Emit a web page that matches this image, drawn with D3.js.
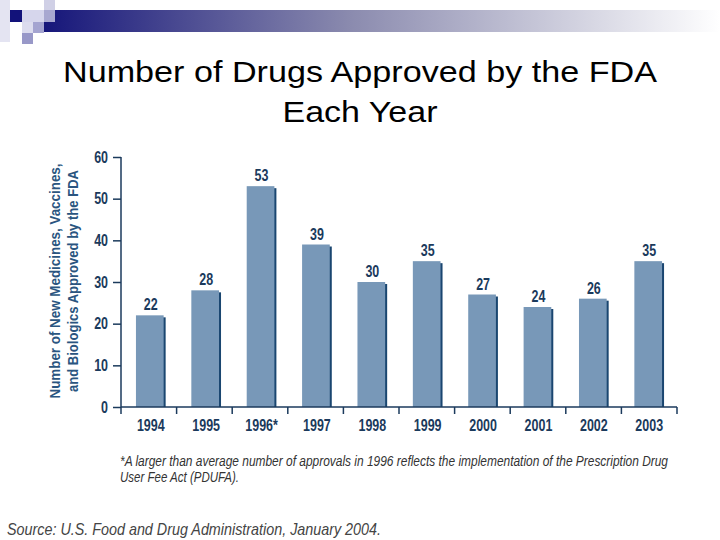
<!DOCTYPE html>
<html>
<head>
<meta charset="utf-8">
<script src="https://cdn.jsdelivr.net/npm/d3@7"></script>
<style>
  body { margin: 0; background: #fff; }
  svg { display: block; }
</style>
</head>
<body>
<div id="main"></div>
<script>
const ctx = {
    w: 720,
    h: 540,
};

// data
const years = ["1994", "1995", "1996*", "1997", "1998", "1999", "2000", "2001", "2002", "2003"];
const approvals = [22, 28, 53, 39, 30, 35, 27, 24, 26, 35];
const yTicks = [0, 10, 20, 30, 40, 50, 60];

const navy = "#1b3a5c";
const sans = "'Liberation Sans', Arial, Helvetica, sans-serif";
const squeeze = 0.78; // the original uses a condensed face, so squeeze horizontally

// bold condensed-looking labels
function boldLabel(sel, size) {
    sel.attr("font-family", sans)
       .attr("font-weight", "bold")
       .attr("font-size", size)
       .attr("fill", navy);
}

function drawDecor(svg) {
    // slide banner: gradient strip + little squares
    const grad = svg.append("defs").append("linearGradient")
        .attr("id", "band").attr("x1", "0%").attr("x2", "100%");
    grad.append("stop").attr("offset", "0%").attr("stop-color", "#16167a");
    grad.append("stop").attr("offset", "45%").attr("stop-color", "#8a8aae");
    grad.append("stop").attr("offset", "100%").attr("stop-color", "#ffffff");
    svg.append("rect").attr("x", 44).attr("y", 10).attr("width", 676).attr("height", 22)
       .attr("fill", "url(#band)");

    const squares = [
        [0, 0, 10, 42, "#e4e4f2"],
        [10, 10, 12, 12, "#12127a"],
        [22, 10, 22, 12, "#d6d6ec"],
        [44, 0, 11, 10, "#d0d0e6"],
        [44, 10, 11, 12, "#a8a8d0"],
        [22, 22, 11, 11, "#dcdcee"],
        [33, 22, 11, 11, "#a4a4d0"],
        [22, 33, 11, 11, "#9898c8"],
    ];
    svg.selectAll(".sq").data(squares).enter().append("rect")
       .attr("class", "sq")
       .attr("x", d => d[0]).attr("y", d => d[1])
       .attr("width", d => d[2]).attr("height", d => d[3])
       .attr("fill", d => d[4]);
}

function drawTitle(svg) {
    const t = svg.append("text")
        .attr("text-anchor", "middle")
        .attr("font-family", sans)
        .attr("font-size", 30)
        .attr("fill", "#000");
    t.append("tspan").attr("x", 360).attr("y", 82)
        .attr("textLength", 594).attr("lengthAdjust", "spacingAndGlyphs")
        .text("Number of Drugs Approved by the FDA");
    t.append("tspan").attr("x", 360).attr("y", 122)
        .attr("textLength", 155).attr("lengthAdjust", "spacingAndGlyphs")
        .text("Each Year");
}

function drawChart(svg) {
    const m = { left: 121, right: 677, top: 157, bottom: 407 };

    const x = d3.scaleBand()
        .domain(years)
        .range([m.left, m.right])
        .paddingInner(0.5)
        .paddingOuter(0.27);
    const y = d3.scaleLinear()
        .domain([0, 60])
        .range([m.bottom, m.top]);

    // bars with a dark drop edge on the right
    const bars = svg.append("g");
    bars.selectAll(".shadow").data(approvals).enter().append("rect")
        .attr("class", "shadow")
        .attr("x", (d, i) => x(years[i]) + 2)
        .attr("y", d => y(d) + 2)
        .attr("width", x.bandwidth())
        .attr("height", d => m.bottom - y(d) - 2)
        .attr("fill", "#1a4670");
    bars.selectAll(".bar").data(approvals).enter().append("rect")
        .attr("class", "bar")
        .attr("x", (d, i) => x(years[i]))
        .attr("y", d => y(d))
        .attr("width", x.bandwidth())
        .attr("height", d => m.bottom - y(d))
        .attr("fill", "#7898b8");

    // value labels
    svg.append("g").selectAll("text").data(approvals).enter().append("text")
        .attr("transform", (d, i) =>
            `translate(${x(years[i]) + x.bandwidth() / 2 + 1},${y(d) - 5}) scale(${squeeze},1)`)
        .attr("text-anchor", "middle")
        .call(boldLabel, 16)
        .text(d => d);

    // y axis
    const yAxis = svg.append("g")
        .attr("transform", `translate(${m.left},0)`)
        .call(d3.axisLeft(y).tickValues(yTicks).tickSize(8).tickPadding(5));
    yAxis.selectAll(".tick text")
        .attr("x", 0)
        .attr("transform", `translate(-13,0) scale(${squeeze},1)`);

    // x axis, ticks at band edges
    const edges = d3.range(years.length + 1).map(i => m.left + i * (m.right - m.left) / years.length);
    const xAxis = svg.append("g")
        .attr("transform", `translate(0,${m.bottom})`)
        .call(d3.axisBottom(x).tickSize(0).tickPadding(13));
    xAxis.selectAll(".tick text")
        .attr("transform", `translate(1,0) scale(${squeeze},1)`);
    xAxis.selectAll(".edge").data(edges).enter().append("line")
        .attr("class", "edge")
        .attr("x1", d => d).attr("x2", d => d)
        .attr("y1", 0).attr("y2", 7)
        .attr("stroke", navy).attr("stroke-width", 1.5);

    [yAxis, xAxis].forEach(a => {
        a.select(".domain").attr("stroke", navy).attr("stroke-width", 1.5);
        a.selectAll(".tick line").attr("stroke", navy).attr("stroke-width", 1.5);
        a.selectAll("text").call(boldLabel, 16);
    });
    yAxis.select(".domain").attr("d", `M0,${m.top}V${m.bottom}`);
    xAxis.select(".domain").attr("d", `M${m.left},0H${m.right}`);

    // y axis title
    const yt = svg.append("text")
        .attr("transform", "translate(0,281) rotate(-90)")
        .attr("text-anchor", "middle")
        .attr("font-family", sans)
        .attr("font-weight", "bold")
        .attr("font-size", 15)
        .attr("fill", "#2a5580");
    yt.append("tspan").attr("x", 0).attr("y", 60)
        .attr("textLength", 235).attr("lengthAdjust", "spacingAndGlyphs")
        .text("Number of New Medicines, Vaccines,");
    yt.append("tspan").attr("x", 0).attr("y", 78)
        .attr("textLength", 222).attr("lengthAdjust", "spacingAndGlyphs")
        .text("and Biologics Approved by the FDA");
}

function drawNotes(svg) {
    const note = svg.append("text")
        .attr("font-family", sans)
        .attr("font-style", "italic")
        .attr("font-size", 14)
        .attr("fill", "#333");
    note.append("tspan").attr("x", 120).attr("y", 466)
        .attr("textLength", 548).attr("lengthAdjust", "spacingAndGlyphs")
        .text("*A larger than average number of approvals in 1996 reflects the implementation of the Prescription Drug");
    note.append("tspan").attr("x", 120).attr("y", 482)
        .attr("textLength", 119).attr("lengthAdjust", "spacingAndGlyphs")
        .text("User Fee Act (PDUFA).");

    svg.append("text")
        .attr("x", 7).attr("y", 535)
        .attr("font-family", sans)
        .attr("font-style", "italic")
        .attr("font-size", 17)
        .attr("fill", "#444")
        .attr("textLength", 374).attr("lengthAdjust", "spacingAndGlyphs")
        .text("Source: U.S. Food and Drug Administration, January 2004.");
}

function createViz() {
    let svg = d3.select("#main").append("svg")
        .attr("width", ctx.w)
        .attr("height", ctx.h);
    drawDecor(svg);
    drawTitle(svg);
    drawChart(svg);
    drawNotes(svg);
}

createViz();
</script>
</body>
</html>
